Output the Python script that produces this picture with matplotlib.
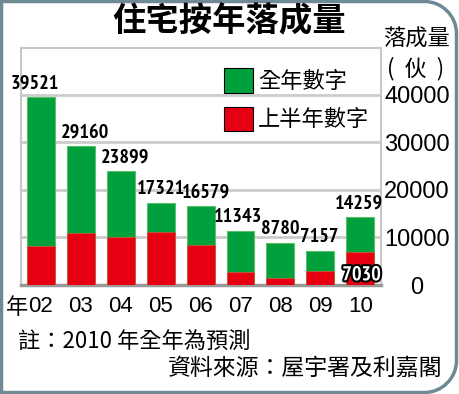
import matplotlib
matplotlib.use("Agg")
import matplotlib.pyplot as plt
from matplotlib.path import Path
from matplotlib.patches import PathPatch, Rectangle
import matplotlib.patheffects as pe

plt.rcParams['font.family'] = ['Noto Sans CJK TC', 'DejaVu Sans']

years = ["02", "03", "04", "05", "06", "07", "08", "09", "10"]
full_year = [39521, 29160, 23899, 17321, 16579, 11343, 8780, 7157, 14259]
first_half = [8250, 10850, 10150, 11050, 8450, 2800, 1550, 3000, 7030]
yticks = [0, 10000, 20000, 30000, 40000]

# horizontal nudges of the value labels (points)
label_dx = [-4.5, 3, 3, 0, 4, -1.5, 0, -0.5, -1]

GREEN = "#00a03c"
RED = "#e60012"
BORDER = "#6f8a94"

narrow = "PT Sans Narrow"
sans = "Liberation Sans"

W, H = 459, 394
fig = plt.figure(figsize=(W / 100, H / 100), dpi=100)

def fx(px):
    return px / W

def fy(py):
    return 1 - py / H

# frame with rounded right corners
r = 32
x0, y0, x1, y1 = 1.5, 1.5, 456.5, 392.5
k = 0.55
verts = [
    (x0, y0), (x1 - r, y0),
    (x1 - r + r * k, y0), (x1, y0 + r - r * k), (x1, y0 + r),
    (x1, y1 - r),
    (x1, y1 - r + r * k), (x1 - r + r * k, y1), (x1 - r, y1),
    (x0, y1), (x0, y0),
]
codes = [Path.MOVETO, Path.LINETO,
         Path.CURVE4, Path.CURVE4, Path.CURVE4,
         Path.LINETO,
         Path.CURVE4, Path.CURVE4, Path.CURVE4,
         Path.LINETO, Path.CLOSEPOLY]
verts_f = [(fx(a), fy(b)) for a, b in verts]
frame = PathPatch(Path(verts_f, codes), transform=fig.transFigure,
                  facecolor="white", edgecolor=BORDER, lw=2.5, zorder=-10)
fig.patches.append(frame)

ax = fig.add_axes([fx(21), fy(285), fx(381) - fx(21), (285 - 48) / H])
ax.set_zorder(1)
ax.set_facecolor("none")
x = list(range(len(years)))
ax.bar(x, full_year, width=0.7, color=GREEN, edgecolor="#5cc06a", lw=0.8, zorder=3)
ax.bar(x, first_half, width=0.7, color=RED, edgecolor="#c0603a", lw=0.6, zorder=4)

ax.set_xlim(-0.5, 8.52)
ax.set_ylim(0, 49800)
ax.set_yticks(yticks)
ax.yaxis.grid(True, color="#cccccc", lw=2, zorder=0)
ax.set_axisbelow(True)
ax.yaxis.tick_right()
ax.tick_params(axis="y", length=0, pad=26)
ax.set_yticklabels([str(v) for v in yticks], fontsize=17, family=sans, ha="center")
ax.set_xticks(x)
ax.set_xticklabels(years, fontsize=16, family=sans)
ax.tick_params(axis="x", length=0, pad=8)
for s in ["top", "left", "right"]:
    ax.spines[s].set_color("#c8c8c8")
    ax.spines[s].set_linewidth(1.5)
ax.spines["bottom"].set_color("#999999")
ax.spines["bottom"].set_linewidth(2.5)

for i, v in enumerate(full_year):
    ax.annotate(str(v), (i, v), xytext=(label_dx[i], 3.5), textcoords="offset points",
                ha="center", va="bottom", fontsize=14.5, fontweight="bold",
                family=narrow, zorder=6)

t = ax.annotate(str(first_half[-1]), (8, 0), xytext=(1, 0.5), textcoords="offset points",
                ha="center", va="bottom", fontsize=14.5,
                fontweight="bold", family=narrow, color="white", zorder=7)
t.set_path_effects([pe.withStroke(linewidth=3, foreground="black")])

# legend
fig.patches.append(Rectangle((fx(224), fy(93)), 29 / W, 25 / H, transform=fig.transFigure,
                             facecolor=GREEN, edgecolor="black", lw=0.8, zorder=5))
fig.patches.append(Rectangle((fx(224), fy(131)), 29 / W, 24 / H, transform=fig.transFigure,
                             facecolor=RED, edgecolor="black", lw=0.8, zorder=5))
fig.text(fx(258), fy(81), "全年數字", fontsize=16, va="center", ha="left")
fig.text(fx(258), fy(119), "上半年數字", fontsize=16, va="center", ha="left")

# title and labels
fig.text(fx(229), fy(22), "住宅按年落成量", fontsize=24, fontweight="heavy",
         ha="center", va="center")
fig.text(fx(416), fy(39), "落成量", fontsize=16, ha="center", va="center")
fig.text(fx(416), fy(69), "(  伙  )", fontsize=16, ha="center", va="center")
fig.text(fx(28), fy(308), "年", fontsize=16, ha="right", va="center")

fig.text(fx(18), fy(341), "註：2010 年全年為預測", fontsize=16, ha="left", va="center")
fig.text(fx(442), fy(368), "資料來源：屋宇署及利嘉閣", fontsize=16.5, ha="right", va="center")

fig.savefig("out.png", dpi=100)
